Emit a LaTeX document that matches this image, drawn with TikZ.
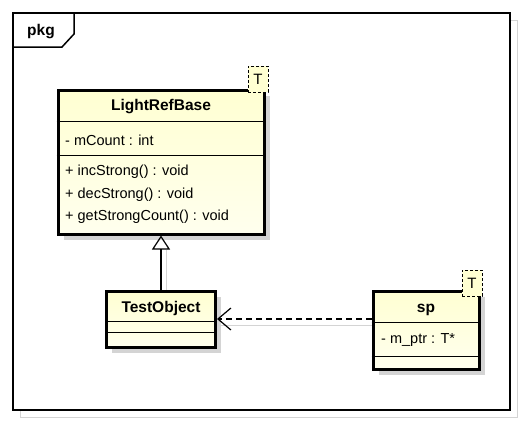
\documentclass[tikz,border=0pt]{standalone}
\usepackage{fontspec}
\setmainfont{Liberation Sans}
\usetikzlibrary{arrows.meta}
\definecolor{clstop}{RGB}{255,255,210}
\definecolor{clsbot}{RGB}{255,255,238}
\definecolor{shd}{RGB}{212,212,212}
\tikzset{
  cbox/.style={draw, line width=3pt, top color=clstop, bottom color=clsbot, inner sep=0pt},
  cshadow/.style={fill=shd, draw=none},
  divider/.style={line width=1pt},
  cname/.style={font=\fontsize{15.5}{17}\selectfont\bfseries, inner sep=0pt},
  member/.style={font=\fontsize{14.5}{16}\selectfont, inner sep=0pt, anchor=west},
  ttag/.style={draw, dashed, dash pattern=on 3pt off 2pt, line width=0.8pt, fill=clstop, inner sep=0pt, minimum width=20pt, minimum height=26pt, font=\fontsize{15}{16}\selectfont},
  frameline/.style={line width=1.5pt},
  conn/.style={line width=1.2pt},
  connshadow/.style={draw=shd, line width=1pt}
}
\begin{document}
\begin{tikzpicture}[x=1pt,y=-1pt]
\useasboundingbox (0,0) rectangle (524,424);
% frame shadow and frame
\draw[draw=shd, line width=1pt] (20,20) rectangle (517,417);
\draw[frameline, fill=white] (13,13) rectangle (510,410);
\draw[frameline] (13,13) -- (74,13) -- (74,34) -- (62,47) -- (13,47);
\node[font=\fontsize{15.5}{16}\selectfont\bfseries, inner sep=0pt] (pkg) at (41,32) {pkg};

% shadows of boxes
\fill[cshadow] (64,96) rectangle (270,240);
\fill[cshadow] (112,297) rectangle (221,353);
\fill[cshadow] (379,297) rectangle (485,375);

% connector shadows
\draw[connshadow] (166,250) -- (166,291);
\draw[connshadow] (220,325) -- (373,325);

% LightRefBase
\node[cbox, minimum width=206pt, minimum height=144pt] (lrb) at (161,162) {};
\draw[divider] (lrb.west |- 0,121) -- (lrb.east |- 0,121);
\draw[divider] (lrb.west |- 0,155) -- (lrb.east |- 0,155);
\node[cname] (lrbname) at (161,107) {LightRefBase};
\node[member] (mcount) at (65,140) {- mCount : int};
\node[member] (inc) at (65,172) {+ incStrong() : void};
\node[member] (dec) at (65,195) {+ decStrong() : void};
\node[member] (get) at (65,217) {+ getStrongCount() : void};
\node[ttag] (lrbt) at (258,79) {T};

% TestObject
\node[cbox, minimum width=109pt, minimum height=56pt] (to) at (161,319) {};
\draw[divider] (to.west |- 0,321) -- (to.east |- 0,321);
\draw[divider] (to.west |- 0,332) -- (to.east |- 0,332);
\node[cname] (toname) at (161,308) {TestObject};

% sp
\node[cbox, minimum width=106pt, minimum height=78pt] (sp) at (426,330) {};
\draw[divider] (sp.west |- 0,322) -- (sp.east |- 0,322);
\draw[divider] (sp.west |- 0,356) -- (sp.east |- 0,356);
\node[cname] (spname) at (426,310) {sp};
\node[member] (mptr) at (381,340) {- m\_ptr : T*};
\node[ttag] (spt) at (472,283) {T};

% generalization
\draw[conn, -{Triangle[open, length=14pt, width=18pt]}] (to.north) -- (lrb.south);
% dependency
\draw[conn, dash pattern=on 6pt off 4pt, -{Straight Barb[length=13pt, width=22pt, line width=1.2pt]}] (sp.west |- to.east) -- (to.east);
\end{tikzpicture}
\end{document}
